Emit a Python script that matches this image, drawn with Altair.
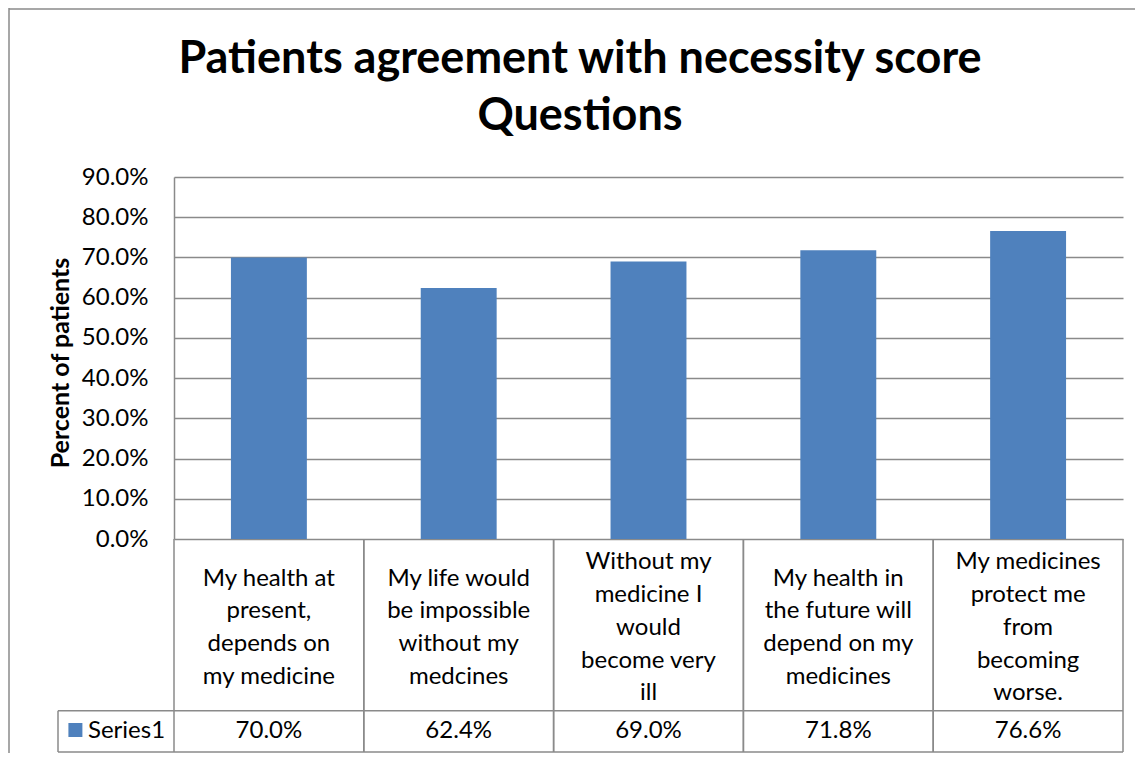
import altair as alt
import pandas as pd

# ---- data ----
categories = [
    "My health at\npresent,\ndepends on\nmy medicine",
    "My life would\nbe impossible\nwithout my\nmedcines",
    "Without my\nmedicine I\nwould\nbecome very\nill",
    "My health in\nthe future will\ndepend on my\nmedicines",
    "My medicines\nprotect me\nfrom\nbecoming\nworse.",
]
values = [0.700, 0.624, 0.690, 0.718, 0.766]
series_name = "Series1"
title_text = "Patients agreement with necessity score\nQuestions"
y_title = "Percent of patients"
y_ticks = [0.0, 0.1, 0.2, 0.3, 0.4, 0.5, 0.6, 0.7, 0.8, 0.9]

df = pd.DataFrame({"cat": categories, "val": values})
one = pd.DataFrame({"series": [series_name]})
title_df = pd.DataFrame({"t": [title_text]})

FONT = "Lato"
BAR = "#4F81BD"
GRID = "#8a8a8a"
W, H = 949, 362
ROW1 = 533.7   # bottom of category row (plot coords)
ROW2 = 575     # bottom of value row
LEFTCELL = -116
LH = 32.8      # line height of the table's category labels
FS = 24

xscale = alt.Scale(domain=categories, paddingInner=0, paddingOuter=0)
X = alt.X("cat:N", sort=categories, scale=xscale, axis=None)

bars = alt.Chart(df).mark_bar(color=BAR, width={"band": 0.4}).encode(
    x=X,
    y=alt.Y(
        "val:Q",
        scale=alt.Scale(domain=[0, 0.9], nice=False, zero=True),
        axis=alt.Axis(
            values=y_ticks, format=".1%", labelFont=FONT, labelFontSize=FS,
            labelColor="black", labelPadding=26, ticks=False,
            domainColor=GRID, domainWidth=1.5, grid=True, gridColor=GRID,
            gridWidth=1.5, title=y_title, titleFont=FONT, titleFontSize=25,
            titleFontWeight="bold", titleColor="black", titleAngle=270,
            titleX=-114, titleY=185.5, titleAlign="center", titleBaseline="middle",
        ),
    ),
)

# table vertical dividers (through the x band scale)
vlines_left = alt.Chart(df).mark_rule(color=GRID, strokeWidth=1.5).encode(
    x=alt.X("cat:N", sort=categories, scale=xscale, axis=None, bandPosition=0),
    y=alt.value(H), y2=alt.value(ROW2),
)
vlines_right = alt.Chart(df).mark_rule(color=GRID, strokeWidth=1.5).encode(
    x=alt.X("cat:N", sort=categories, scale=xscale, axis=None, bandPosition=1),
    y=alt.value(H), y2=alt.value(ROW2),
)
hline1 = alt.Chart(one).mark_rule(color=GRID, strokeWidth=1.5).encode(
    x=alt.value(LEFTCELL), x2=alt.value(W), y=alt.value(ROW1)
)
hline2 = alt.Chart(one).mark_rule(color=GRID, strokeWidth=1.5).encode(
    x=alt.value(LEFTCELL), x2=alt.value(W), y=alt.value(ROW2)
)
cell_left = alt.Chart(one).mark_rule(color=GRID, strokeWidth=1.5).encode(
    x=alt.value(LEFTCELL), y=alt.value(ROW1), y2=alt.value(ROW2)
)
# outer chart border (left and top)
border_left = alt.Chart(one).mark_rule(color=GRID, strokeWidth=1.5).encode(
    x=alt.value(-165), y=alt.value(-169), y2=alt.value(H + 214)
)
border_top = alt.Chart(one).mark_rule(color=GRID, strokeWidth=1.5).encode(
    x=alt.value(-165), x2=alt.value(W + 12), y=alt.value(-168)
)

# category labels, each block centred vertically in the table row
cat_text = alt.Chart(df).transform_calculate(
    nlines="length(split(datum.cat, '\\n'))"
).transform_calculate(
    ypix=f"{(H + ROW1) / 2 + 3} - (datum.nlines - 1) * {LH / 2}"
).mark_text(
    font=FONT, fontSize=FS, lineBreak="\n", lineHeight=LH,
    baseline="middle", align="center", color="black",
).encode(x=X, y=alt.Y("ypix:Q", scale=None, axis=None), text="cat:N")

val_text = alt.Chart(df).mark_text(
    font=FONT, fontSize=FS, baseline="middle", align="center", color="black",
).encode(x=X, y=alt.value((ROW1 + ROW2) / 2), text=alt.Text("val:Q", format=".1%"))

legend_sq = alt.Chart(one).mark_square(color=BAR, size=196, opacity=1).encode(
    x=alt.value(-98.6), y=alt.value(553)
)
legend_txt = alt.Chart(one).mark_text(
    font=FONT, fontSize=FS, baseline="middle", align="left", color="black",
).encode(x=alt.value(-86), y=alt.value((ROW1 + ROW2) / 2), text="series:N")

title = alt.Chart(title_df).mark_text(
    font=FONT, fontSize=45, fontWeight="bold", lineBreak="\n", lineHeight=57,
    baseline="alphabetic", align="center", color="black",
).encode(x=alt.value(406), y=alt.value(-104), text="t:N")

chart = alt.layer(
    bars, vlines_left, vlines_right, hline1, hline2, cell_left,
    border_left, border_top, cat_text, val_text, legend_sq, legend_txt, title,
).properties(
    width=W, height=H,
    padding={"left": 166, "top": 169, "right": 12, "bottom": 214},
    autosize=alt.AutoSizeParams(type="none"),
    background="white",
).configure_view(stroke=None)

chart.save("out.html", embed_options={"renderer": "svg", "actions": False})
